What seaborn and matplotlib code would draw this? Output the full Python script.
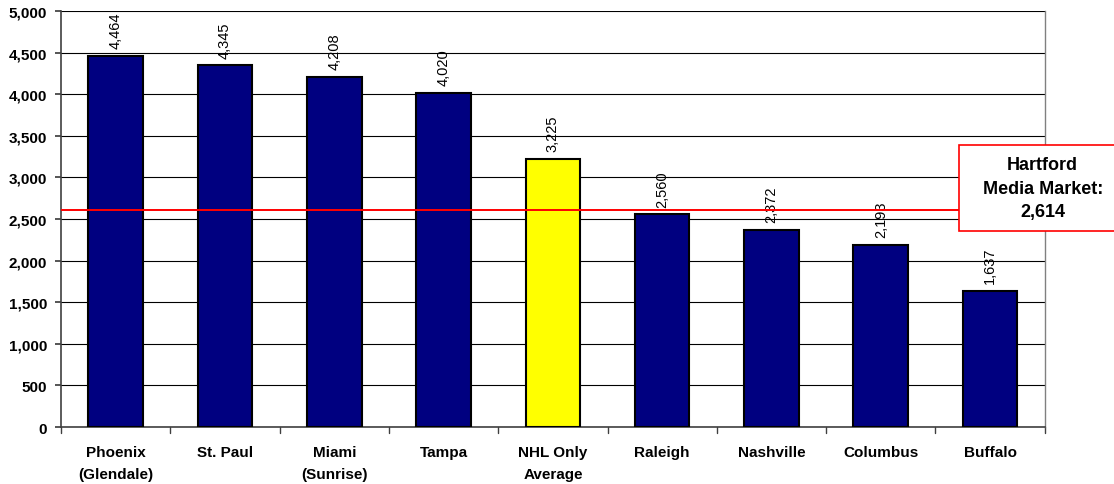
import matplotlib
matplotlib.use("Agg")
import matplotlib.pyplot as plt
from matplotlib.patches import Rectangle
import seaborn as sns
import pandas as pd

cities = ["Phoenix\n(Glendale)", "St. Paul", "Miami\n(Sunrise)", "Tampa", "NHL Only\nAverage",
          "Raleigh", "Nashville", "Columbus", "Buffalo"]
values = [4464, 4345, 4208, 4020, 3225, 2560, 2372, 2193, 1637]
hartford = 2614

sns.set_theme(style="white")
plt.rcParams["font.family"] = ["Liberation Sans", "DejaVu Sans"]

df = pd.DataFrame({"city": cities, "value": values})
palette = ["#FFFF00" if c.startswith("NHL") else "#000080" for c in cities]

fig = plt.figure(figsize=(11.14, 4.85), dpi=100)
ax = fig.add_axes([0.0548, 0.1175, 0.883, 0.8578])

sns.barplot(data=df, x="city", y="value", hue="city", palette=palette, legend=False,
            saturation=1, width=0.5, edgecolor="black", linewidth=1.5, ax=ax, zorder=3)

ax.set_ylim(0, 5000)
ax.set_xlim(-0.5, len(cities) - 0.5)
ax.set_yticks(range(0, 5001, 500))
ax.set_yticklabels([f"{v:,}" for v in range(0, 5001, 500)], fontsize=11, fontweight="bold",
                   color="black")
ax.set_xticks(range(len(cities)))
ax.set_xticklabels(cities, fontsize=11, fontweight="bold", color="black", linespacing=1.7)
ax.tick_params(axis="x", length=0, pad=13)
ax.tick_params(axis="y", length=4, pad=6, left=True, color="#404040")
ax.set_xlabel("")
ax.set_ylabel("")
ax.yaxis.grid(True, color="black", linewidth=0.8, zorder=0)

# category separators on the x axis
for b in range(len(cities) + 1):
    ax.plot([b - 0.5, b - 0.5], [0, -0.015], transform=ax.get_xaxis_transform(),
            color="#404040", linewidth=1, clip_on=False)

for side in ["left", "bottom"]:
    ax.spines[side].set_color("#404040")
    ax.spines[side].set_linewidth(1.2)
ax.spines["right"].set_color("#808080")
ax.spines["right"].set_linewidth(1)
ax.spines["top"].set_visible(False)

for i, v in enumerate(values):
    ax.text(i, v + 90, f"{v:,}", rotation=90, ha="center", va="bottom", fontsize=10.5,
            color="black", zorder=4)

# Hartford reference line and callout
ax.axhline(hartford, color="#FF0000", linewidth=1.4, zorder=5)
fig.patches.append(Rectangle((0.861, 0.522), 0.2, 0.177, transform=fig.transFigure,
                             facecolor="white", edgecolor="#FF0000", linewidth=1.2, zorder=6))
fig.text(0.936, 0.610, "Hartford\nMedia Market:\n" + f"{hartford:,}", ha="center", va="center",
         fontsize=13, fontweight="bold", linespacing=1.5, color="black", zorder=7)

fig.savefig("out.png", dpi=100)
